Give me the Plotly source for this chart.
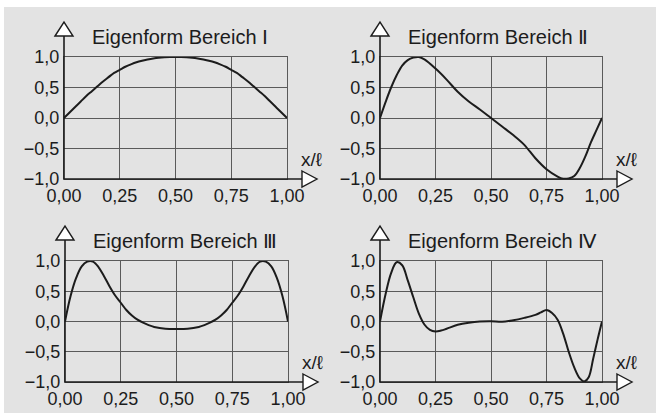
import plotly.graph_objects as go

W, H = 656, 413

# ---------------- data ----------------
x1_vals = [0, .025, .05, .075, .1, .125, .15, .175, .2, .225, .25, .275, .3, .325, .35, .375, .4, .425, .45, .475, .5,
           .525, .55, .575, .6, .625, .65, .675, .7, .725, .75, .775, .8, .825, .85, .875, .9, .925, .95, .975, 1.0]
y1_vals = [0, .09, .18, .27, .36, .44, .52, .60, .67, .74, .79, .84, .88, .915, .94, .96, .977, .989, .996, .999, 1.0,
           .999, .996, .989, .977, .96, .94, .915, .88, .84, .79, .74, .67, .60, .52, .44, .36, .27, .18, .09, 0]

x2_vals = [0, .025, .05, .075, .1, .125, .15, .175, .2, .25, .3, .35, .4, .45, .5, .55, .6, .65, .7, .75,
           .8, .825, .85, .875, .9, .925, .95, .975, 1.0]
y2_vals = [0, .26, .50, .70, .86, .95, .99, 1.0, .96, .81, .63, .43, .27, .14, 0, -.14, -.28, -.44, -.66, -.84,
           -.96, -.995, -.99, -.95, -.82, -.63, -.40, -.20, 0]

x3_vals = [0, .025, .05, .075, .1, .125, .15, .175, .2, .225, .25, .275, .3, .325, .35, .375, .4, .45, .5,
           .55, .6, .625, .65, .675, .7, .725, .75, .775, .8, .825, .85, .875, .9, .925, .95, .975, 1.0]
y3_vals = [0, .42, .72, .91, .99, .99, .90, .75, .58, .43, .31, .19, .10, .03, -.02, -.06, -.09, -.12, -.125,
           -.12, -.09, -.06, -.02, .03, .10, .19, .31, .43, .58, .75, .90, .99, .99, .91, .72, .42, 0]

x4_vals = [0, .025, .05, .075, .1, .125, .15, .175, .2, .225, .25, .275, .3, .35, .4, .45, .5, .55, .6, .65,
           .7, .725, .75, .775, .8, .825, .85, .875, .9, .92, .94, .96, .98, 1.0]
y4_vals = [0, .45, .80, .98, .93, .68, .40, .13, -.05, -.14, -.165, -.15, -.12, -.055, -.02, 0, .005, -.005, .02, .06,
           .11, .15, .19, .14, .03, -.20, -.50, -.76, -.94, -.99, -.92, -.62, -.30, 0]

titles = ["Eigenform Bereich Ⅰ", "Eigenform Bereich Ⅱ", "Eigenform Bereich Ⅲ", "Eigenform Bereich Ⅳ"]
x_tickvals = [0, 0.25, 0.5, 0.75, 1.0]
x_ticktext = ["0,00", "0,25", "0,50", "0,75", "1,00"]
y_tickvals = [-1.0, -0.5, 0.0, 0.5, 1.0]
y_ticktext = ["−1,0", "−0,5", "0,0", "0,5", "1,0"]
x_label = "x/ℓ"

series = [(x1_vals, y1_vals), (x2_vals, y2_vals), (x3_vals, y3_vals), (x4_vals, y4_vals)]

# ---------------- layout geometry (pixels) ----------------
# (left, right, top, bottom) of each plot area
geom = [(64, 287, 57, 179), (380, 602, 57, 179), (65, 288, 261, 382), (380, 602, 261, 382)]

FONT = "Liberation Sans, Arial, DejaVu Sans, sans-serif"
BG = "#e3e3e3"
GRID = "#5a5a5a"
INK = "#1c1c1c"


def px(x):
    return x / W


def py(y):
    return 1 - y / H


fig = go.Figure()
layout = dict(
    width=W, height=H,
    margin=dict(l=0, r=0, t=0, b=0, autoexpand=False),
    paper_bgcolor="white",
    plot_bgcolor="rgba(0,0,0,0)",
    showlegend=False,
    font=dict(family=FONT, size=18, color=INK),
)
shapes = []
annotations = []

# background panel
shapes.append(dict(type="rect", xref="paper", yref="paper", x0=px(4), x1=1, y0=0, y1=py(7),
                   fillcolor=BG, line=dict(width=0), layer="below"))

for i, ((xs, ys), (l, r, t, b)) in enumerate(zip(series, geom)):
    n = "" if i == 0 else str(i + 1)
    fig.add_trace(go.Scatter(x=xs, y=ys, mode="lines",
                             line=dict(color=INK, width=2, shape="spline", smoothing=1.0),
                             xaxis="x" + n, yaxis="y" + n, cliponaxis=False, hoverinfo="skip"))
    common = dict(ticks="", showgrid=True, gridcolor=GRID, gridwidth=1, zeroline=False,
                  showline=True, mirror=True, linecolor=GRID, linewidth=1, automargin=False,
                  tickfont=dict(family=FONT, size=18, color=INK), fixedrange=True)
    layout["xaxis" + n] = dict(domain=[px(l), px(r)], range=[0, 1], anchor="y" + n,
                               tickvals=x_tickvals, ticktext=x_ticktext, **common)
    layout["yaxis" + n] = dict(domain=[py(b), py(t)], range=[-1, 1], anchor="x" + n,
                               tickvals=y_tickvals, ticktext=y_ticktext, **common)
    # black axes with open arrow heads
    shapes.append(dict(type="line", xref="paper", yref="paper", x0=px(l), x1=px(r + 15), y0=py(b), y1=py(b),
                       line=dict(color=INK, width=1.6)))
    shapes.append(dict(type="line", xref="paper", yref="paper", x0=px(l), x1=px(l), y0=py(b), y1=py(t - 21),
                       line=dict(color=INK, width=1.6)))
    xa = f"M {px(r + 15)} {py(b - 8)} L {px(r + 30)} {py(b)} L {px(r + 15)} {py(b + 8)} Z"
    ya = f"M {px(l - 9)} {py(t - 21)} L {px(l)} {py(t - 35)} L {px(l + 9)} {py(t - 21)} Z"
    for p in (xa, ya):
        shapes.append(dict(type="path", xref="paper", yref="paper", path=p,
                           fillcolor="white", line=dict(color=INK, width=1.4)))
    annotations.append(dict(text=titles[i], xref="paper", yref="paper", x=px(l + 26), y=py(t - 20),
                            xanchor="left", yanchor="middle", showarrow=False,
                            font=dict(family=FONT, size=20, color=INK)))
    annotations.append(dict(text=x_label, xref="paper", yref="paper", x=px(r + 24), y=py(b - 20),
                            xanchor="center", yanchor="middle", showarrow=False,
                            font=dict(family=FONT, size=19, color=INK)))

layout["shapes"] = shapes
layout["annotations"] = annotations
fig.update_layout(**layout)
fig.write_html("out.html")
